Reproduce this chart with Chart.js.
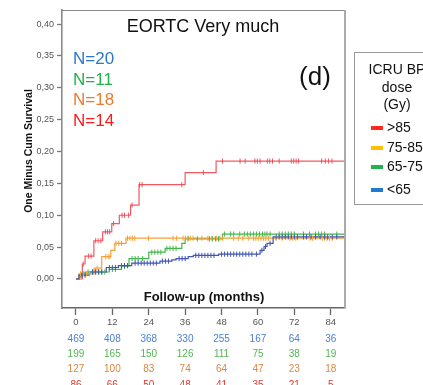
<!DOCTYPE html>
<html>
<head>
<meta charset="utf-8">
<script src="https://cdn.jsdelivr.net/npm/chart.js@4.4.1/dist/chart.umd.min.js"></script>
<style>
  html,body{margin:0;padding:0;background:#fff;}
  #wrap{position:relative;width:423px;height:385px;}
</style>
</head>
<body>
<div id="wrap"><canvas id="km" width="423" height="385"></canvas></div>
<script>
// Cumulative incidence step curves (months, one minus cum survival)
const redTimes   =[0,2.1,3,5.9,8.8,11.8,14.3,18,20.8,36,46.2,89];
const redCum     =[0,0.0235,0.036,0.06,0.074,0.087,0.100,0.116,0.148,0.167,0.185,0.185];
const redCensor  =[2.4,4.2,5.0,6.5,7.3,8.2,9.7,10.4,11.1,12.4,15.2,16.0,17.3,18.5,21.0,21.8,34.9,42.0,48.3,54.1,55.8,59.0,59.8,60.7,63.1,63.9,64.8,67.0,71.0,71.8,72.6,73.4,81.0,82.2,83.3,84.4];

const orangeTimes =[0,1,6,8.5,11.5,12.8,16.5,89];
const orangeCum   =[0,0.008,0.017,0.035,0.045,0.056,0.064,0.064];
const orangeCensor=[1.5,2.5,3.5,4.5,7,9.8,10.6,11.2,13.2,14.1,15,17,17.8,18.6,19.4,23.9,32,33.2,35.3,36.1,36.9,37.7,38.6,41.5,43.5,44.8,46.4,47.4,48.4,52,53.5,55,57,58.5,59.3,60.1,61,61.8,62.6,63.5,66,68,70.6,71.5,72.5,77.2,78,81.2,82,82.8,83.6,84.6];

const greenTimes =[0,1,3,11,15,17.5,24,29.4,34.9,36,48.3,89];
const greenCum   =[0,0.006,0.011,0.015,0.020,0.032,0.042,0.048,0.056,0.063,0.0705,0.0705];
const greenCensor=[1.5,2,4,5.5,6.5,7.5,8.5,9.5,12,13,16,18.5,19.5,20.5,22,25,26,27,28,30,31,32,33,37,40,44,45,46,47,49,51,52,54,55.5,56.5,57.5,58.5,59.5,60.5,61.5,62.3,63,64,67,68,69,70,71,72,75,77,79,80,81,82,86];

const blueTimes =[0,1,4.5,10,14,18.4,27.7,31.6,33,37,38.7,47,60.7,62,63,65,89];
const blueCum   =[0,0.006,0.011,0.018,0.021,0.025,0.028,0.030,0.032,0.035,0.037,0.039,0.045,0.051,0.056,0.066,0.066];
const blueCensor=[2,3,5.5,6.5,7.5,8.5,11,12,13,15,16,17,19.5,20.5,21.5,22.5,23.5,24.5,25.5,26.5,28.5,29.5,30.5,34,35,36,39.5,40.5,41.5,42.5,43.5,44.5,45.5,48,49,50,51,52,53,54,55,56,57,58,59.5,61.3,62.5,64,66,67,68,69,70,71,72,73,75,76,77.5,79,80.5,82,83,84.5,86];

// axis ticks
const xTicks=[0,12,24,36,48,60,72,84];
const yTicks=[0,0.05,0.10,0.15,0.20,0.25,0.30,0.35,0.40];

// numbers at risk (blue, green, orange, red rows)
const riskBlue  =[469,408,368,330,255,167,64,36];
const riskGreen =[199,165,150,126,111,75,38,19];
const riskOrange=[127,100,83,74,64,47,23,18];
const riskRed   =[86,66,50,48,41,35,21,5];

const groupN=['N=20','N=11','N=18','N=14'];
const legendLabels=['>85','75-85','65-75','<65'];

const C={red:'rgba(238,60,70,0.85)',orange:'#f5a035',green:'#45b64a',blue:'#4155b6'};
const FONT='"Liberation Sans", Arial, sans-serif';

function stepPts(t,v){return t.map((x,i)=>({x:x,y:v[i]}));}
function censorPts(ct,t,v){
  return ct.map(c=>{let y=0;for(let i=0;i<t.length;i++){if(t[i]<=c)y=v[i];}return {x:c,y:y};});
}
function lineDs(t,v,col){return {data:stepPts(t,v),borderColor:col,borderWidth:1.2,stepped:'before',pointRadius:0,fill:false,order:2};}
function markDs(ct,t,v,col){return {data:censorPts(ct,t,v),showLine:false,borderColor:col,backgroundColor:col,
  pointStyle:'line',rotation:90,pointRadius:2.6,borderWidth:1,order:1};}

const decor={id:'decor',
  afterDraw(chart){
    const ctx=chart.ctx, a=chart.chartArea, xs=chart.scales.x;
    ctx.save();
    // frame top and right
    ctx.strokeStyle='#8a8a8a';ctx.lineWidth=1;
    ctx.beginPath();ctx.moveTo(a.left,a.top+0.5);ctx.lineTo(a.right,a.top+0.5);ctx.stroke();
    ctx.strokeStyle='#aaaaaa';ctx.lineWidth=2;
    ctx.beginPath();ctx.moveTo(a.right,a.top);ctx.lineTo(a.right,a.bottom);ctx.stroke();

    // title and panel mark
    ctx.fillStyle='#111';ctx.textAlign='center';ctx.textBaseline='alphabetic';
    ctx.font='18px '+FONT;ctx.fillText('EORTC Very much',203,32);
    ctx.font='26px '+FONT;ctx.fillText('(d)',315,85);

    // group sizes
    const nCol=['#2a78c8','#22b14c','#ee7a2e','#ff1a1a'];
    ctx.textAlign='left';ctx.textBaseline='middle';ctx.font='17px '+FONT;
    groupN.forEach((s,i)=>{ctx.fillStyle=nCol[i];ctx.fillText(s,73,59.5+i*20.6);});

    // x axis title inside the frame
    ctx.fillStyle='#111';ctx.textAlign='center';ctx.font='bold 13px '+FONT;
    ctx.fillText('Follow-up (months)',204,297);

    // y axis title
    ctx.save();ctx.translate(29,151);ctx.rotate(-Math.PI/2);
    ctx.font='bold 10.5px '+FONT;ctx.fillText('One Minus Cum Survival',0,0);ctx.restore();

    // numbers at risk
    const rows=[riskBlue,riskGreen,riskOrange,riskRed];
    const rCol=['#4a80d0','#55b455','#dc8640','#e8352a'];
    const rY=[339,354,369.5,385];
    ctx.font='10px '+FONT;ctx.textAlign='center';
    rows.forEach((r,j)=>{ctx.fillStyle=rCol[j];
      r.forEach((n,i)=>ctx.fillText(String(n),xs.getPixelForValue(xTicks[i]),rY[j]));});

    // legend box
    ctx.strokeStyle='#9a9a9a';ctx.lineWidth=1;ctx.strokeRect(354.5,52.5,90,152);
    ctx.fillStyle='#111';ctx.font='14px '+FONT;ctx.textAlign='center';
    ctx.fillText('ICRU BP',397,70);ctx.fillText('dose',397,88);ctx.fillText('(Gy)',397,105);
    const sw=['#ff2a1a','#ffc000','#22b14c','#1f7ad4'];
    const ly=[128,148,167,190];
    ctx.textAlign='left';
    legendLabels.forEach((s,i)=>{ctx.fillStyle=sw[i];ctx.fillRect(371,ly[i]-2,12,4);
      ctx.fillStyle='#111';ctx.fillText(s,387,ly[i]);});
    ctx.restore();
  }};

new Chart(document.getElementById('km'),{type:'line',
  data:{datasets:[
    lineDs(blueTimes,blueCum,C.blue),lineDs(orangeTimes,orangeCum,C.orange),
    lineDs(greenTimes,greenCum,C.green),lineDs(redTimes,redCum,C.red),
    markDs(blueCensor,blueTimes,blueCum,C.blue),markDs(orangeCensor,orangeTimes,orangeCum,C.orange),
    markDs(greenCensor,greenTimes,greenCum,C.green),markDs(redCensor,redTimes,redCum,C.red)]},
  options:{responsive:false,animation:false,
    layout:{padding:{top:10,right:78,left:0,bottom:0}},
    plugins:{legend:{display:false},tooltip:{enabled:false}},
    scales:{
      x:{type:'linear',min:-4.6,max:88.7,
        afterBuildTicks:s=>{s.ticks=xTicks.map(v=>({value:v}));},
        afterFit:s=>{s.height=77;},
        grid:{drawOnChartArea:false,color:'#666',tickLength:7,tickWidth:1.3},
        border:{color:'#666',width:1.6},
        ticks:{padding:2,color:'#555',font:{family:FONT,size:9.5},maxRotation:0}},
      y:{min:-0.0455,max:0.422,
        afterBuildTicks:s=>{s.ticks=yTicks.map(v=>({value:v}));},
        afterFit:s=>{s.width=62;},
        grid:{drawOnChartArea:false,color:'#777',tickLength:5,tickWidth:1.3},
        border:{color:'#8a8a8a',width:1.6},
        ticks:{padding:3,color:'#555',font:{family:FONT,size:9},
          callback:v=>v.toFixed(2).replace('.',',')}}}},
  plugins:[decor]
});
</script>
</body>
</html>
